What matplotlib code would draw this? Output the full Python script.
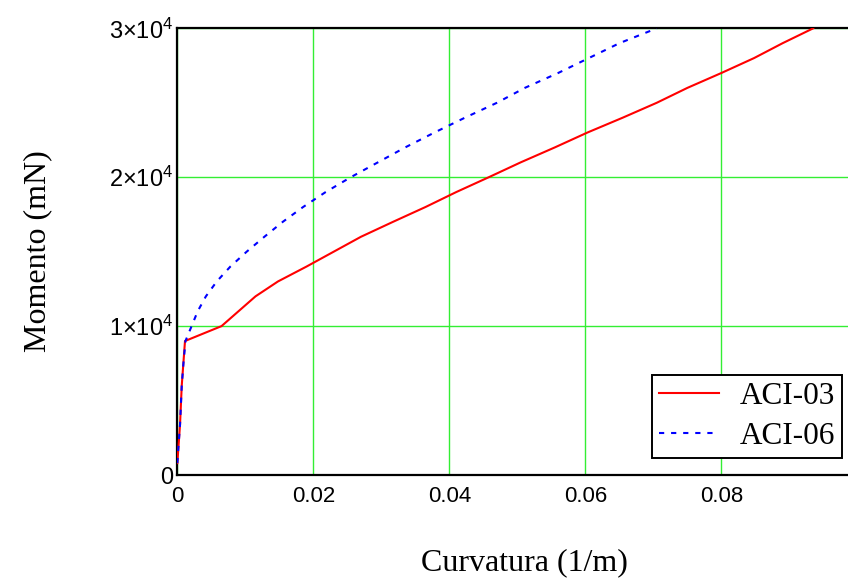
import matplotlib
matplotlib.use("Agg")
from matplotlib import pyplot as plt
from matplotlib.ticker import FixedLocator, FixedFormatter

# curvature (1/m) and moment (mN)
curv_aci03 = [0.0, 0.0004, 0.00065, 0.00113, 0.0065, 0.0115, 0.0148, 0.019,
              0.023, 0.027, 0.0317, 0.0365, 0.041, 0.0458, 0.0505, 0.0555, 0.0603,
              0.0655, 0.0705, 0.075, 0.080, 0.0848, 0.089, 0.0935]
mom_aci03 = [800, 3400, 6000, 9000, 10000, 12000, 13000, 14000,
             15000, 16000, 17000, 18000, 19000, 20000, 21000, 22000, 23000,
             24000, 25000, 26000, 27000, 28000, 29000, 30000]

curv_aci06 = [0.0, 0.0004, 0.00065, 0.0009, 0.0012, 0.0021, 0.003, 0.0042, 0.0058,
              0.0078, 0.0102, 0.0128, 0.0155, 0.0185, 0.0218, 0.0255, 0.0295,
              0.0335, 0.0378, 0.0423, 0.047, 0.0511, 0.056, 0.0605, 0.065, 0.0705]
mom_aci06 = [800, 3400, 6000, 7500, 9000, 10000, 11000, 12000, 13000,
             14000, 15000, 16000, 17000, 18000, 19000, 20000, 21000,
             22000, 23000, 24000, 25000, 26000, 27000, 28000, 29000, 30000]

x_ticks = [0.0, 0.02, 0.04, 0.06, 0.08]
x_ticklabels = ["0", "0.02", "0.04", "0.06", "0.08"]
y_ticks = [0, 10000, 20000, 30000]
y_ticklabels = ["0", r"$1{\times}10^{4}$", r"$2{\times}10^{4}$", r"$3{\times}10^{4}$"]

plt.rcParams["mathtext.fontset"] = "custom"
plt.rcParams["mathtext.rm"] = "Liberation Sans"
plt.rcParams["mathtext.it"] = "Liberation Sans"

fig = plt.figure(figsize=(8.48, 5.85), dpi=100)
# axes runs a little past the right edge, like the reference crop
ax = fig.add_axes([0.2091, 0.188, 0.802, 0.7636])

ax.plot(curv_aci03, mom_aci03, color="red", lw=1.5, label="ACI-03", zorder=3)
ax.plot(curv_aci06, mom_aci06, color="blue", lw=1.5, linestyle=(0, (2.5, 3.3)),
        label="ACI-06", zorder=3)

ax.set_xlim(0, 0.1)
ax.set_ylim(0, 30000)
ax.xaxis.set_major_locator(FixedLocator(x_ticks))
ax.xaxis.set_major_formatter(FixedFormatter(x_ticklabels))
ax.yaxis.set_major_locator(FixedLocator(y_ticks))
ax.yaxis.set_major_formatter(FixedFormatter(y_ticklabels))
ax.tick_params(axis="x", length=0, labelsize=16, pad=8)
ax.tick_params(axis="y", length=0, labelsize=17, pad=3)
for lab in ax.get_xticklabels() + ax.get_yticklabels():
    lab.set_family("Liberation Sans")

ax.grid(True, color="#33ee33", lw=1.0, zorder=1)
ax.set_axisbelow(True)
for side in ("left", "bottom", "top"):
    ax.spines[side].set_linewidth(1.6)
    ax.spines[side].set_color("black")
ax.spines["right"].set_visible(False)

fig.text(0.618, 0.038, "Curvatura (1/m)", family="Liberation Serif", fontsize=23,
         ha="center", va="center")
fig.text(0.044, 0.571, "Momento (mN)", family="Liberation Serif", fontsize=23,
         ha="center", va="center", rotation=90)

leg = ax.legend(loc="lower right", bbox_to_anchor=(0.9926, 0.2176),
                bbox_transform=fig.transFigure, borderaxespad=0,
                prop={"family": "Liberation Serif", "size": 22.5},
                fancybox=False, framealpha=1, edgecolor="black",
                handlelength=1.95, handletextpad=0.64, borderpad=0.22,
                labelspacing=0.34)
leg.get_frame().set_linewidth(1.4)

fig.savefig("out.png", dpi=100)
